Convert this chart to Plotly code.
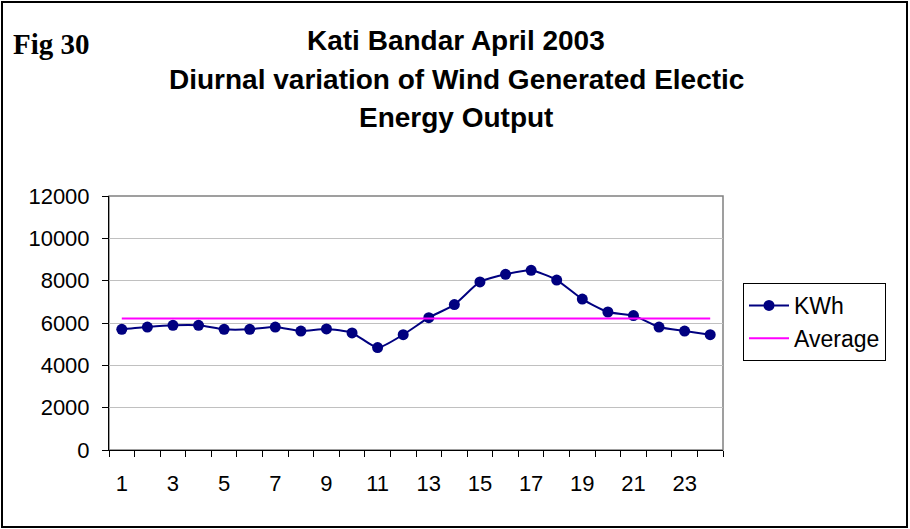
import plotly.graph_objects as go

hours = list(range(1, 25))
kwh = [5700, 5810, 5890, 5890, 5700, 5700, 5810, 5620, 5720, 5530, 4840, 5450,
       6250, 6870, 7940, 8300, 8490, 8030, 7130, 6520, 6350, 5810, 5620, 5450]
average = [6210] * 24
x_ticklabels = [str(h) for h in range(1, 24, 2)]
y_ticks = [0, 2000, 4000, 6000, 8000, 10000, 12000]
y_ticklabels = [str(v) for v in y_ticks]

W, H = 910, 529
ML, MR, MT, MB = 109, 187, 196, 79
PW, PH = W - ML - MR, H - MT - MB

def px_x(px):
    return (px - ML) / PW

def px_y(py):
    return (H - MB - py) / PH

FONT = "Arial, Liberation Sans, sans-serif"

fig = go.Figure()
fig.add_trace(go.Scatter(
    x=hours, y=kwh, name="KWh", mode="lines+markers",
    line=dict(color="#000080", width=2, shape="spline", smoothing=0.6),
    marker=dict(color="#000080", size=11, symbol="circle"),
))
fig.add_trace(go.Scatter(
    x=hours, y=average, name="Average", mode="lines",
    line=dict(color="#FF00FF", width=2),
))

fig.update_layout(
    width=W, height=H,
    margin=dict(l=ML, r=MR, t=MT, b=MB, autoexpand=False),
    paper_bgcolor="white", plot_bgcolor="white",
    font=dict(family=FONT, color="black", size=22),
    showlegend=True,
    legend=dict(
        x=px_x(743), y=px_y(283), xanchor="left", yanchor="top",
        bordercolor="black", borderwidth=1, bgcolor="white",
        font=dict(family=FONT, size=23, color="black"),
        tracegroupgap=4, itemwidth=40,
    ),
    xaxis=dict(
        range=[0.5, 24.5], showgrid=False, zeroline=False,
        tickmode="array", tickvals=list(range(1, 24, 2)), ticktext=x_ticklabels,
        ticks="", showline=True, linecolor="black", linewidth=1,
        ticklabelstandoff=14,
        minor=dict(tickmode="array", tickvals=[h + 0.5 for h in range(0, 25)],
                   ticks="outside", ticklen=6, tickcolor="black", showgrid=False),
        tickfont=dict(size=22),
    ),
    yaxis=dict(
        range=[0, 12000], tickmode="array", tickvals=y_ticks, ticktext=y_ticklabels,
        showgrid=True, gridcolor="#c0c0c0", gridwidth=1,
        zeroline=False, showline=True, linecolor="black", linewidth=1,
        ticks="outside", ticklen=6, tickcolor="black",
        ticklabelstandoff=8,
        tickfont=dict(size=22),
    ),
    shapes=[
        dict(type="rect", xref="x domain", yref="y domain", x0=0, x1=1, y0=0, y1=1,
             line=dict(color="#808080", width=1.5), layer="below"),
        dict(type="rect", xref="paper", yref="paper",
             x0=px_x(2), x1=px_x(907), y0=px_y(527), y1=px_y(2),
             line=dict(color="black", width=2)),
    ],
    annotations=[
        dict(text="<b>Fig 30</b>", xref="paper", yref="paper",
             x=px_x(11), y=px_y(44), xanchor="left", yanchor="middle",
             showarrow=False, font=dict(family="Times New Roman, Liberation Serif, serif", size=29)),
        dict(text="<b>Kati Bandar April 2003</b>", xref="paper", yref="paper",
             x=px_x(456), y=px_y(40), xanchor="center", yanchor="middle",
             showarrow=False, font=dict(size=28)),
        dict(text="<b>Diurnal variation of Wind Generated Electic</b>", xref="paper", yref="paper",
             x=px_x(456), y=px_y(80), xanchor="center", yanchor="middle",
             showarrow=False, font=dict(size=28)),
        dict(text="<b>Energy Output</b>", xref="paper", yref="paper",
             x=px_x(456), y=px_y(117), xanchor="center", yanchor="middle",
             showarrow=False, font=dict(size=28)),
    ],
)

fig.write_html("out.html", config={"displayModeBar": False},
               post_script="document.body.style.margin='0';")
